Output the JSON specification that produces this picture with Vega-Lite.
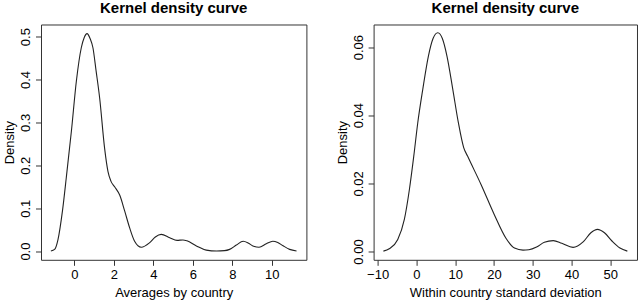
{
  "$schema": "https://vega.github.io/schema/vega-lite/v6.json",
  "background": "white",
  "padding": {"left": 3, "top": 0.5, "right": 2, "bottom": 0},
  "bounds": "flush",
  "spacing": 66.6,
  "datasets": {
    "avg": [
      {"x": -1.19, "d": 0.0003}, {"x": -1.0, "d": 0.004}, {"x": -0.83, "d": 0.027}, {"x": -0.6, "d": 0.095},
      {"x": -0.41, "d": 0.171}, {"x": -0.15, "d": 0.28}, {"x": 0.1, "d": 0.396}, {"x": 0.35, "d": 0.474},
      {"x": 0.5, "d": 0.498}, {"x": 0.64, "d": 0.507}, {"x": 0.8, "d": 0.495}, {"x": 0.94, "d": 0.474},
      {"x": 1.1, "d": 0.42}, {"x": 1.28, "d": 0.357}, {"x": 1.53, "d": 0.24}, {"x": 1.7, "d": 0.186},
      {"x": 1.85, "d": 0.163}, {"x": 2.04, "d": 0.15}, {"x": 2.3, "d": 0.13}, {"x": 2.55, "d": 0.093},
      {"x": 2.8, "d": 0.054}, {"x": 3.05, "d": 0.023}, {"x": 3.39, "d": 0.009}, {"x": 3.8, "d": 0.019},
      {"x": 4.1, "d": 0.033}, {"x": 4.4, "d": 0.039}, {"x": 4.83, "d": 0.031}, {"x": 5.2, "d": 0.025},
      {"x": 5.5, "d": 0.026}, {"x": 5.7, "d": 0.024}, {"x": 6.18, "d": 0.012}, {"x": 6.68, "d": 0.0023},
      {"x": 7.2, "d": 0.0003}, {"x": 7.6, "d": 0.001}, {"x": 7.86, "d": 0.004}, {"x": 8.2, "d": 0.014},
      {"x": 8.55, "d": 0.023}, {"x": 8.8, "d": 0.019}, {"x": 9.04, "d": 0.012}, {"x": 9.35, "d": 0.009},
      {"x": 9.72, "d": 0.017}, {"x": 10.05, "d": 0.023}, {"x": 10.3, "d": 0.02}, {"x": 10.55, "d": 0.013},
      {"x": 10.9, "d": 0.004}, {"x": 11.25, "d": 0.0003}
    ],
    "sd": [
      {"x": -8.5, "d": 0.0001}, {"x": -7.0, "d": 0.0008}, {"x": -4.8, "d": 0.0035}, {"x": -3.1, "d": 0.0094},
      {"x": -1.8, "d": 0.0182}, {"x": -0.67, "d": 0.028}, {"x": 0.36, "d": 0.0378}, {"x": 1.65, "d": 0.0476},
      {"x": 3.09, "d": 0.0573}, {"x": 4.3, "d": 0.0625}, {"x": 5.52, "d": 0.0642}, {"x": 6.7, "d": 0.0625},
      {"x": 7.9, "d": 0.0573}, {"x": 9.39, "d": 0.0476}, {"x": 10.83, "d": 0.0378}, {"x": 12.2, "d": 0.0305},
      {"x": 13.2, "d": 0.028}, {"x": 16.7, "d": 0.0196}, {"x": 20.1, "d": 0.0108}, {"x": 23.1, "d": 0.0039},
      {"x": 25.3, "d": 0.001}, {"x": 27.5, "d": 0.0004}, {"x": 29.0, "d": 0.0005}, {"x": 31.0, "d": 0.0013},
      {"x": 33.0, "d": 0.0027}, {"x": 35.3, "d": 0.0032}, {"x": 37.5, "d": 0.0024}, {"x": 40.4, "d": 0.0012},
      {"x": 43.0, "d": 0.0028}, {"x": 45.0, "d": 0.0055}, {"x": 46.7, "d": 0.0065}, {"x": 48.5, "d": 0.0055},
      {"x": 50.5, "d": 0.003}, {"x": 52.5, "d": 0.001}, {"x": 54.4, "d": 0.0001}
    ]
  },
  "hconcat": [
    {
      "width": 265.4,
      "height": 235.3,
      "title": {"text": "Kernel density curve"},
      "layer": [
        {
          "mark": {"type": "rule", "color": "#d0d0d0", "strokeWidth": 1},
          "encoding": {"y": {"datum": 0, "type": "quantitative", "scale": {"domain": [-0.0203, 0.5282], "nice": false, "zero": false}}}
        },
        {
          "data": {"name": "avg"},
          "mark": {"type": "line", "interpolate": "monotone", "color": "#222", "strokeWidth": 1.1},
          "encoding": {
            "x": {"field": "x", "type": "quantitative", "title": "Averages by country",
                  "scale": {"domain": [-1.69, 11.75], "nice": false, "zero": false},
                  "axis": {"values": [0, 2, 4, 6, 8, 10], "format": "d"}},
            "y": {"field": "d", "type": "quantitative", "title": "Density",
                  "scale": {"domain": [-0.0203, 0.5282], "nice": false, "zero": false},
                  "axis": {"values": [0, 0.1, 0.2, 0.3, 0.4, 0.5], "format": ".1f"}}
          }
        }
      ]
    },
    {
      "width": 263.4,
      "height": 235.3,
      "title": {"text": "Kernel density curve"},
      "layer": [
        {
          "mark": {"type": "rule", "color": "#d0d0d0", "strokeWidth": 1},
          "encoding": {"y": {"datum": 0, "type": "quantitative", "scale": {"domain": [-0.00244, 0.06663], "nice": false, "zero": false}}}
        },
        {
          "data": {"name": "sd"},
          "mark": {"type": "line", "interpolate": "monotone", "color": "#222", "strokeWidth": 1.1},
          "encoding": {
            "x": {"field": "x", "type": "quantitative", "title": "Within country standard deviation",
                  "scale": {"domain": [-11.03, 56.89], "nice": false, "zero": false},
                  "axis": {"values": [-10, 0, 10, 20, 30, 40, 50], "format": "d"}},
            "y": {"field": "d", "type": "quantitative", "title": "Density",
                  "scale": {"domain": [-0.00244, 0.06663], "nice": false, "zero": false},
                  "axis": {"values": [0, 0.01, 0.02, 0.03, 0.04, 0.05, 0.06], "format": ".2f",
                           "labelExpr": "indexof(['0.00','0.02','0.04','0.06'], datum.label) >= 0 ? datum.label : ''"}}
          }
        }
      ]
    }
  ],
  "config": {
    "font": "Liberation Sans",
    "view": {"stroke": "#333", "strokeWidth": 1},
    "title": {"font": "Liberation Sans", "fontSize": 15, "fontWeight": "bold", "color": "#000", "anchor": "middle", "baseline": "alphabetic", "offset": 8.4},
    "axis": {
      "domain": false, "grid": false,
      "ticks": true, "tickSize": 5.5, "tickColor": "#333", "tickWidth": 1,
      "labelFont": "Liberation Sans", "labelFontSize": 13, "labelColor": "#000", "labelOverlap": false, "labelFlush": false,
      "titleFont": "Liberation Sans", "titleFontSize": 13, "titleFontWeight": "normal", "titleColor": "#000"
    },
    "axisX": {"labelPadding": 3, "titlePadding": 5, "labelBaseline": "top"},
    "axisY": {"labelAngle": -90, "labelAlign": "center", "labelBaseline": "alphabetic", "labelPadding": 6, "titleAngle": -90, "titleBaseline": "alphabetic", "titlePadding": 6}
  }
}
